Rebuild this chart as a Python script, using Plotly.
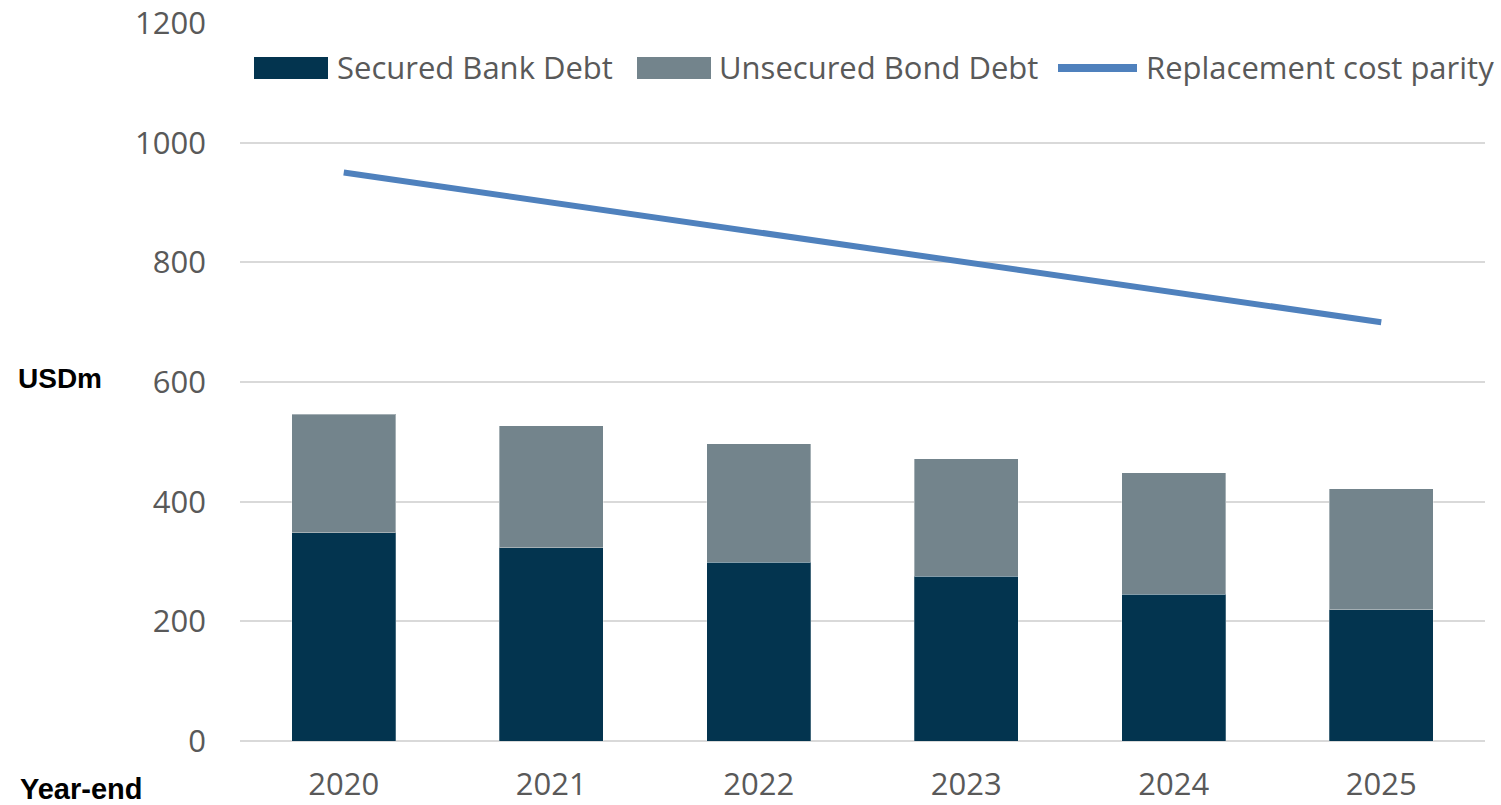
import plotly.graph_objects as go

# Debt structure by year-end (USDm)
years = ["2020", "2021", "2022", "2023", "2024", "2025"]
secured_bank_debt = [348, 323, 299, 275, 245, 219]
unsecured_bond_debt = [198, 204, 198, 197, 203, 203]
replacement_cost_parity = [950, 900, 850, 800, 750, 700]
y_ticks = [0, 200, 400, 600, 800, 1000, 1200]

series_names = ["Secured Bank Debt", "Unsecured Bond Debt", "Replacement cost parity"]

C_SECURED = "#03344F"
C_UNSECURED = "#73848C"
C_LINE = "#4F81BD"
C_TEXT = "#595959"
C_GRID = "#D9D9D9"

W, H = 1501, 805
M_L, M_R, M_T, M_B = 240, 16, 23, 64
PLOT_W = W - M_L - M_R
PLOT_H = H - M_T - M_B


def px_x(px):
    """Pixel x in page -> paper coordinate."""
    return (px - M_L) / PLOT_W


def px_y(py):
    """Pixel y in page -> paper coordinate."""
    return (H - M_B - py) / PLOT_H


fig = go.Figure()

fig.add_trace(go.Bar(
    x=years, y=secured_bank_debt, name=series_names[0],
    marker=dict(color=C_SECURED, line=dict(color="rgba(255,255,255,0.25)", width=1)),
    showlegend=False,
))
fig.add_trace(go.Bar(
    x=years, y=unsecured_bond_debt, name=series_names[1],
    marker=dict(color=C_UNSECURED, line=dict(color="rgba(255,255,255,0.35)", width=1)),
    showlegend=False,
))
fig.add_trace(go.Scatter(
    x=years, y=replacement_cost_parity, name=series_names[2],
    mode="lines", line=dict(color=C_LINE, width=6),
    showlegend=False,
))

# Legend row drawn along the top of the plot area
legend_y = 68
shapes = [
    dict(type="rect", xref="paper", yref="paper",
         x0=px_x(254), x1=px_x(328), y0=px_y(79), y1=px_y(57),
         fillcolor=C_SECURED, line=dict(width=0)),
    dict(type="rect", xref="paper", yref="paper",
         x0=px_x(637), x1=px_x(711), y0=px_y(79), y1=px_y(57),
         fillcolor=C_UNSECURED, line=dict(width=0)),
    dict(type="line", xref="paper", yref="paper",
         x0=px_x(1058), x1=px_x(1137), y0=px_y(legend_y), y1=px_y(legend_y),
         line=dict(color=C_LINE, width=8)),
]
legend_font = dict(family="Open Sans, Liberation Sans, sans-serif", size=31, color=C_TEXT)
annotations = [
    dict(text=series_names[0], x=px_x(335), y=px_y(legend_y - 1), xref="paper", yref="paper",
         xanchor="left", yanchor="middle", showarrow=False, font=legend_font),
    dict(text=series_names[1], x=px_x(717), y=px_y(legend_y - 1), xref="paper", yref="paper",
         xanchor="left", yanchor="middle", showarrow=False, font=legend_font),
    dict(text=series_names[2], x=px_x(1144), y=px_y(legend_y - 1), xref="paper", yref="paper",
         xanchor="left", yanchor="middle", showarrow=False, font=legend_font),
    dict(text="<b>USDm</b>", x=px_x(16), y=px_y(378), xref="paper", yref="paper",
         xanchor="left", yanchor="middle", showarrow=False,
         font=dict(family="Liberation Sans, Arial, sans-serif", size=28, color="#000000")),
    dict(text="<b>Year-end</b>", x=px_x(18), y=px_y(789), xref="paper", yref="paper",
         xanchor="left", yanchor="middle", showarrow=False,
         font=dict(family="Liberation Sans, Arial, sans-serif", size=29, color="#000000")),
]

tick_font = dict(family="Open Sans, Liberation Sans, sans-serif", size=31, color=C_TEXT)

fig.update_layout(
    width=W, height=H,
    margin=dict(l=M_L, r=M_R, t=M_T, b=M_B, pad=0),
    barmode="stack",
    bargap=0.5,
    plot_bgcolor="white",
    paper_bgcolor="white",
    shapes=shapes,
    annotations=annotations,
    showlegend=False,
    xaxis=dict(
        type="category", range=[-0.5, 5.5], automargin=False,
        showgrid=False, zeroline=False, showline=False,
        ticks="", tickfont=tick_font, ticklabelstandoff=22,
    ),
    yaxis=dict(
        range=[0, 1200], tickvals=y_ticks, automargin=False,
        showgrid=True, gridcolor=C_GRID, gridwidth=2,
        zeroline=True, zerolinecolor=C_GRID, zerolinewidth=2,
        showline=False, ticks="", tickfont=tick_font, ticklabelstandoff=33,
    ),
)

fig.write_html("out.html")
